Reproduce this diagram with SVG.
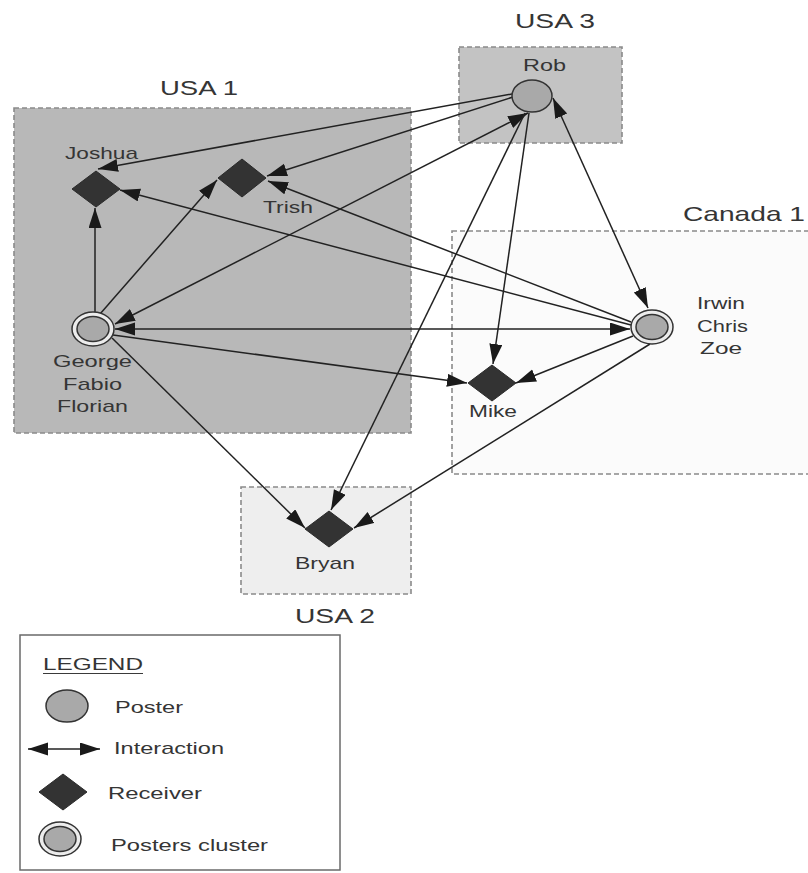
<svg xmlns="http://www.w3.org/2000/svg" width="808" height="873" viewBox="0 0 808 873">
  <style>
    .cluster { stroke: #8a8a8a; stroke-width: 1.6; stroke-dasharray: 5 3; }
    .title { font-family: "Liberation Sans", Arial, sans-serif; font-size: 21px; fill: #353535; }
    .label { font-family: "Liberation Sans", Arial, sans-serif; font-size: 17px; fill: #353535; }
    .poster { fill: #a9a9a9; stroke: #333; stroke-width: 1.5; }
    .ring { fill: #ececec; stroke: #333; stroke-width: 1.5; }
    .receiver { fill: #333; stroke: #2a2a2a; stroke-width: 1; }
    .edge { fill: none; stroke: #222; stroke-width: 1.5; }
  </style>
  <defs>
    <marker id="head" markerUnits="userSpaceOnUse" markerWidth="21" markerHeight="14" refX="20" refY="6.5" orient="auto-start-reverse">
      <path d="M0,0 L20,6.5 L0,13 z" fill="#1a1a1a"/>
    </marker>
  </defs>

  <rect width="808" height="873" fill="#ffffff"/>

  <!-- clusters -->
  <g id="cluster-usa1">
    <rect class="cluster" x="14" y="108" width="397" height="325" fill="#b8b8b8"/>
    <text class="title" x="160" y="95" textLength="78" lengthAdjust="spacingAndGlyphs">USA 1</text>
  </g>
  <g id="cluster-usa3">
    <rect class="cluster" x="459" y="47" width="163" height="96" fill="#c3c3c3"/>
    <text class="title" x="515" y="28" textLength="80" lengthAdjust="spacingAndGlyphs">USA 3</text>
  </g>
  <g id="cluster-canada1">
    <rect class="cluster" x="452" y="231" width="370" height="243" fill="#fbfbfb"/>
    <text class="title" x="683" y="221" textLength="122" lengthAdjust="spacingAndGlyphs">Canada 1</text>
  </g>
  <g id="cluster-usa2">
    <rect class="cluster" x="241" y="487" width="170" height="107" fill="#eeeeee"/>
    <text class="title" x="295" y="623" textLength="80" lengthAdjust="spacingAndGlyphs">USA 2</text>
  </g>

  <!-- connectors -->
  <g id="edges">
    <line class="edge" x1="512" y1="94" x2="98" y2="169" marker-end="url(#head)"/>
    <line class="edge" x1="513" y1="97" x2="267" y2="176" marker-end="url(#head)"/>
    <line class="edge" x1="631" y1="322" x2="268" y2="181" marker-end="url(#head)"/>
    <line class="edge" x1="631" y1="325" x2="120" y2="190" marker-end="url(#head)"/>
    <line class="edge" x1="115" y1="329" x2="630" y2="329" marker-start="url(#head)" marker-end="url(#head)"/>
    <line class="edge" x1="115" y1="324" x2="528" y2="113" marker-start="url(#head)" marker-end="url(#head)"/>
    <line class="edge" x1="553" y1="98" x2="648" y2="308" marker-start="url(#head)" marker-end="url(#head)"/>
    <line class="edge" x1="529" y1="113" x2="493" y2="364" marker-end="url(#head)"/>
    <line class="edge" x1="525" y1="113" x2="331" y2="510" marker-end="url(#head)"/>
    <line class="edge" x1="95" y1="312" x2="95" y2="208" marker-end="url(#head)"/>
    <line class="edge" x1="100" y1="314" x2="217" y2="180" marker-end="url(#head)"/>
    <line class="edge" x1="113" y1="335" x2="467" y2="383" marker-end="url(#head)"/>
    <line class="edge" x1="633" y1="336" x2="516" y2="383" marker-end="url(#head)"/>
    <line class="edge" x1="112" y1="338" x2="305" y2="528" marker-end="url(#head)"/>
    <line class="edge" x1="650" y1="344" x2="354" y2="528" marker-end="url(#head)"/>
  </g>

  <!-- nodes -->
  <g id="rob">
    <ellipse class="poster" cx="532" cy="96" rx="20" ry="16"/>
    <text class="label" x="523" y="71" textLength="43" lengthAdjust="spacingAndGlyphs">Rob</text>
  </g>
  <g id="joshua">
    <polygon class="receiver" points="96,171 120,189 96,207 72,189"/>
    <text class="label" x="65" y="159" textLength="73" lengthAdjust="spacingAndGlyphs">Joshua</text>
  </g>
  <g id="trish">
    <polygon class="receiver" points="242,159 266,178 242,197 218,178"/>
    <text class="label" x="263" y="213" textLength="50" lengthAdjust="spacingAndGlyphs">Trish</text>
  </g>
  <g id="george">
    <ellipse class="ring" cx="93" cy="329" rx="21" ry="17"/>
    <ellipse class="poster" cx="93" cy="329" rx="16" ry="12.5"/>
    <text class="label" x="53" y="367" textLength="79" lengthAdjust="spacingAndGlyphs">George</text>
    <text class="label" x="63" y="390" textLength="59" lengthAdjust="spacingAndGlyphs">Fabio</text>
    <text class="label" x="57" y="412" textLength="71" lengthAdjust="spacingAndGlyphs">Florian</text>
  </g>
  <g id="irwin">
    <ellipse class="ring" cx="652" cy="327" rx="21" ry="17"/>
    <ellipse class="poster" cx="652" cy="327" rx="16" ry="12.5"/>
    <text class="label" x="697" y="309" textLength="48" lengthAdjust="spacingAndGlyphs">Irwin</text>
    <text class="label" x="697" y="332" textLength="51" lengthAdjust="spacingAndGlyphs">Chris</text>
    <text class="label" x="700" y="354" textLength="42" lengthAdjust="spacingAndGlyphs">Zoe</text>
  </g>
  <g id="mike">
    <polygon class="receiver" points="492,365 516,383 492,401 468,383"/>
    <text class="label" x="469" y="417" textLength="48" lengthAdjust="spacingAndGlyphs">Mike</text>
  </g>
  <g id="bryan">
    <polygon class="receiver" points="329,511 353,529 329,547 305,529"/>
    <text class="label" x="295" y="569" textLength="60" lengthAdjust="spacingAndGlyphs">Bryan</text>
  </g>

  <!-- legend -->
  <g id="legend">
    <rect x="20" y="635" width="320" height="235" fill="#ffffff" stroke="#6a6a6a" stroke-width="1.5"/>
    <text class="label" x="43" y="670" textLength="100" lengthAdjust="spacingAndGlyphs">LEGEND</text>
    <line x1="43" y1="673.5" x2="143" y2="673.5" stroke="#3a3a3a" stroke-width="1.2"/>
    <ellipse class="poster" cx="67" cy="706" rx="21" ry="16"/>
    <text class="label" x="115" y="713" textLength="68" lengthAdjust="spacingAndGlyphs">Poster</text>
    <line class="edge" x1="28" y1="749" x2="100" y2="749" marker-start="url(#head)" marker-end="url(#head)"/>
    <text class="label" x="114" y="754" textLength="110" lengthAdjust="spacingAndGlyphs">Interaction</text>
    <polygon class="receiver" points="63,774 87,792 63,810 39,792"/>
    <text class="label" x="108" y="799" textLength="94" lengthAdjust="spacingAndGlyphs">Receiver</text>
    <ellipse class="ring" cx="60" cy="839" rx="21" ry="17"/>
    <ellipse class="poster" cx="60" cy="839" rx="16" ry="12.5"/>
    <text class="label" x="111" y="851" textLength="157" lengthAdjust="spacingAndGlyphs">Posters cluster</text>
  </g>
</svg>
